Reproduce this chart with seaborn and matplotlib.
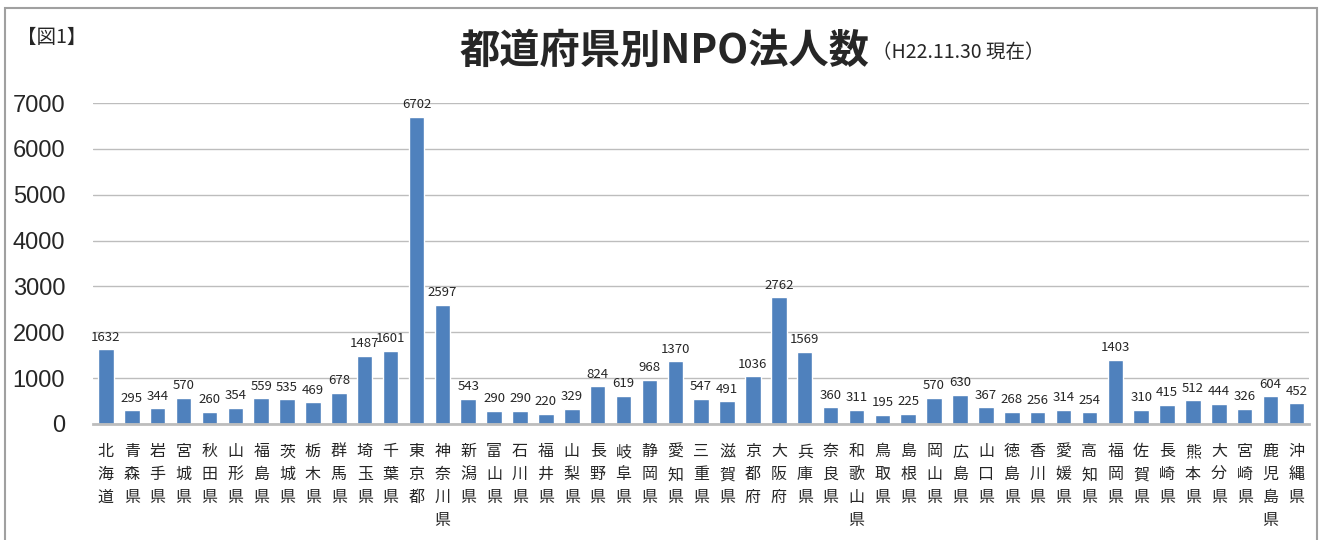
import pandas as pd
import matplotlib
matplotlib.use('Agg')
import matplotlib.pyplot as plt
import seaborn as sns
from matplotlib.patches import Rectangle

# Prefectures and NPO counts (H22.11.30)
prefectures = ['北海道', '青森県', '岩手県', '宮城県', '秋田県', '山形県', '福島県', '茨城県',
               '栃木県', '群馬県', '埼玉県', '千葉県', '東京都', '神奈川県', '新潟県', '富山県',
               '石川県', '福井県', '山梨県', '長野県', '岐阜県', '静岡県', '愛知県', '三重県',
               '滋賀県', '京都府', '大阪府', '兵庫県', '奈良県', '和歌山県', '鳥取県', '島根県',
               '岡山県', '広島県', '山口県', '徳島県', '香川県', '愛媛県', '高知県', '福岡県',
               '佐賀県', '長崎県', '熊本県', '大分県', '宮崎県', '鹿児島県', '沖縄県']
counts = [1632, 295, 344, 570, 260, 354, 559, 535, 469, 678, 1487, 1601, 6702, 2597, 543, 290,
          290, 220, 329, 824, 619, 968, 1370, 547, 491, 1036, 2762, 1569, 360, 311, 195, 225,
          570, 630, 367, 268, 256, 314, 254, 1403, 310, 415, 512, 444, 326, 604, 452]
y_ticks = [0, 1000, 2000, 3000, 4000, 5000, 6000, 7000]

df = pd.DataFrame({'pref': prefectures, 'count': counts})

sns.set_style('white')
plt.rcParams['font.family'] = ['Noto Sans CJK JP', 'DejaVu Sans']

fig = plt.figure(figsize=(13.28, 5.40), dpi=100)
ax = fig.add_axes([0.070, 0.215, 0.916, 0.594])

sns.barplot(data=df, x='pref', y='count', color='#4F81BD', saturation=1, width=0.6, ax=ax)

# value labels
for c in ax.containers:
    ax.bar_label(c, labels=[str(v) for v in counts], padding=4, fontsize=9.5)

ax.set_ylim(0, 7000)
ax.set_xlim(-0.5, len(prefectures) - 0.5)
ax.set_yticks(y_ticks)
ax.set_yticklabels([str(t) for t in y_ticks], fontsize=17, family='Liberation Sans')
ax.tick_params(axis='y', length=0, pad=20)
ax.grid(axis='y', color='#BDBDBD', linewidth=1)
ax.set_axisbelow(True)

# vertical category labels, one character per line
ax.set_xticks(range(len(prefectures)))
ax.set_xticklabels(['\n'.join(p) for p in prefectures], fontsize=11.5,
                   linespacing=1.45, va='top')
ax.tick_params(axis='x', length=0, pad=14)
ax.set_xlabel('')
ax.set_ylabel('')

for s in ['top', 'right', 'left']:
    ax.spines[s].set_visible(False)
ax.spines['bottom'].set_color('#BDBDBD')
ax.spines['bottom'].set_linewidth(2)

# titles
fig.text(0.655, 0.905, '都道府県別NPO法人数', fontsize=29, fontweight='bold', ha='right', va='center')
fig.text(0.657, 0.902, '（H22.11.30 現在）', fontsize=14, ha='left', va='center')
fig.text(0.013, 0.93, '【図1】', fontsize=14, ha='left', va='center')

# frame around the chart
fig.patches.append(Rectangle((0.004, -0.01), 0.988, 0.995, transform=fig.transFigure,
                             fill=False, edgecolor='#A0A0A0', linewidth=1.5))

fig.savefig('out.png', dpi=100)
